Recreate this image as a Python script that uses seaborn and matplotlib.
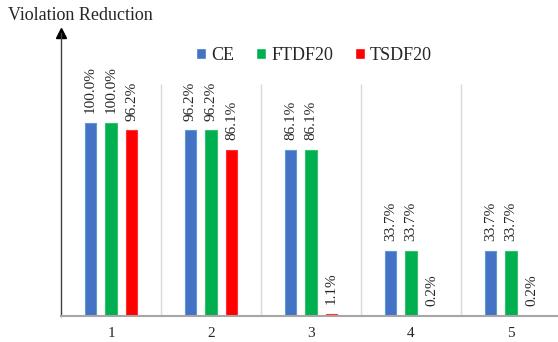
import seaborn as sns
import matplotlib.pyplot as plt
import pandas as pd

# 데이터
cases = ["1", "2", "3", "4", "5"]
methods = ["CE", "FTDF20", "TSDF20"]
ce = [100.0, 96.2, 86.1, 33.7, 33.7]
ftdf20 = [100.0, 96.2, 86.1, 33.7, 33.7]
tsdf20 = [96.2, 86.1, 1.1, 0.2, 0.2]

colors = ["#4472C4", "#00B050", "#FF0000"]
edges = ["#5B9BD5", "#33C070", "#FF3030"]

df = pd.DataFrame({
    "case": cases * 3,
    "method": [m for m in methods for _ in cases],
    "value": ce + ftdf20 + tsdf20,
})

sns.set_style("white")
plt.rcParams["font.family"] = ["Liberation Serif", "DejaVu Serif"]

fig = plt.figure(figsize=(5.58, 3.42), dpi=100)
ax = fig.add_axes([61 / 558, 26 / 342, 1 - 61 / 558, (316 - 33) / 342])

sns.barplot(data=df, x="case", y="value", hue="method", hue_order=methods,
            palette=colors, saturation=1, width=0.615, gap=0.46, ax=ax)

# 막대 테두리와 라벨
for cont, ec in zip(ax.containers, edges):
    for bar in cont:
        bar.set_edgecolor(ec)
        bar.set_linewidth(0.8)
    ax.bar_label(cont, labels=[f"{v:.1f}%" for v in cont.datavalues],
                 rotation=90, padding=7, fontsize=11)

h, l = ax.get_legend_handles_labels()
ax.get_legend().remove()
fig.legend(h, l, loc="center", bbox_to_anchor=(314 / 558, 1 - 55 / 342), ncol=3,
           frameon=False, fontsize=13, handlelength=0.55, handleheight=0.55,
           handletextpad=0.3, columnspacing=1.2, borderaxespad=0)

# 구분선
ax.vlines([0.5, 1.5, 2.5, 3.5], 0, 120, colors="#D9D9D9", linewidth=1)

ax.set_xlim(-0.5, 4.47)
ax.set_ylim(0, 146.6)
ax.set_xlabel("")
ax.set_ylabel("")
ax.set_yticks([])
ax.tick_params(axis="x", length=0, labelsize=11, pad=8)

for s in ["top", "right"]:
    ax.spines[s].set_visible(False)
ax.spines["bottom"].set_color("#A6A6A6")
ax.spines["bottom"].set_linewidth(1.5)
ax.spines["left"].set_color("#404040")
ax.spines["left"].set_linewidth(1)
ax.plot(0, 1, marker="^", color="black", markersize=7, transform=ax.transAxes,
        clip_on=False)

fig.text(8 / 558, 1 - 16 / 342, "Violation Reduction", fontsize=13, va="center", ha="left")

plt.savefig("out.png", dpi=100)
